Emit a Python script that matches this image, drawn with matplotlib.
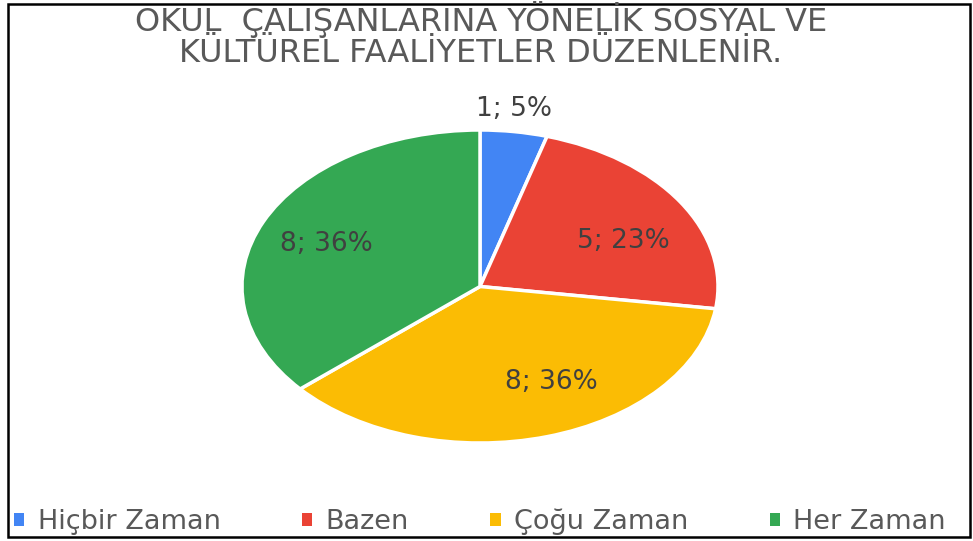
import numpy as np
import matplotlib
matplotlib.use("Agg")
import matplotlib.pyplot as plt
from matplotlib.patches import Rectangle

title_lines = ["OKUL  ÇALIŞANLARINA YÖNELİK SOSYAL VE", "KÜLTÜREL FAALİYETLER DÜZENLENİR."]
categories = ["Hiçbir Zaman", "Bazen", "Çoğu Zaman", "Her Zaman"]
values = [1, 5, 8, 8]
colors = ["#4285F4", "#EA4335", "#FBBC04", "#34A853"]

label_dist = [1.14, 0.67, 0.68, 0.70]
label_shift = [1, -7, 10, 2]

plt.rcParams['font.family'] = ['DejaVu Sans']
W, H = 973, 541
fig = plt.figure(figsize=(W/100, H/100), dpi=100)

ax = fig.add_axes([242/W, 1-443/H, 476/W, 313/H])
wedges, _ = ax.pie(values, colors=colors, startangle=90, counterclock=False,
                   wedgeprops=dict(edgecolor="white", linewidth=2.5), radius=1)
ax.set_aspect('auto')
ax.set_xlim(-1, 1)
ax.set_ylim(-1, 1)
ax.axis('off')

total = sum(values)
for w, v, d, s in zip(wedges, values, label_dist, label_shift):
    mid = np.deg2rad((w.theta1 + w.theta2) / 2 + s)
    pct = round(100 * v / total)
    ax.text(d*np.cos(mid), d*np.sin(mid), f"{v}; {pct}%", ha='center', va='center',
            fontsize=19, color="#404040")

for line, yb in zip(title_lines, [31, 62]):
    fig.text(481/W, 1-yb/H, line, ha='center', va='baseline', fontsize=23,
             color="#595959")

leg = fig.legend(wedges, categories, loc='center', bbox_to_anchor=(480/W, 1-522/H),
                 ncol=4, frameon=False, fontsize=19.5, handlelength=0.38, handleheight=0.38,
                 handletextpad=0.5, columnspacing=3.0, labelcolor="#595959")
for h in leg.legend_handles:
    h.set_linewidth(0)

fig.patches.append(Rectangle((8/W, 4/H), 962/W, 533/H, transform=fig.transFigure,
                             fill=False, edgecolor='black', linewidth=1.8))

fig.savefig("out.png", dpi=100, facecolor='white')
